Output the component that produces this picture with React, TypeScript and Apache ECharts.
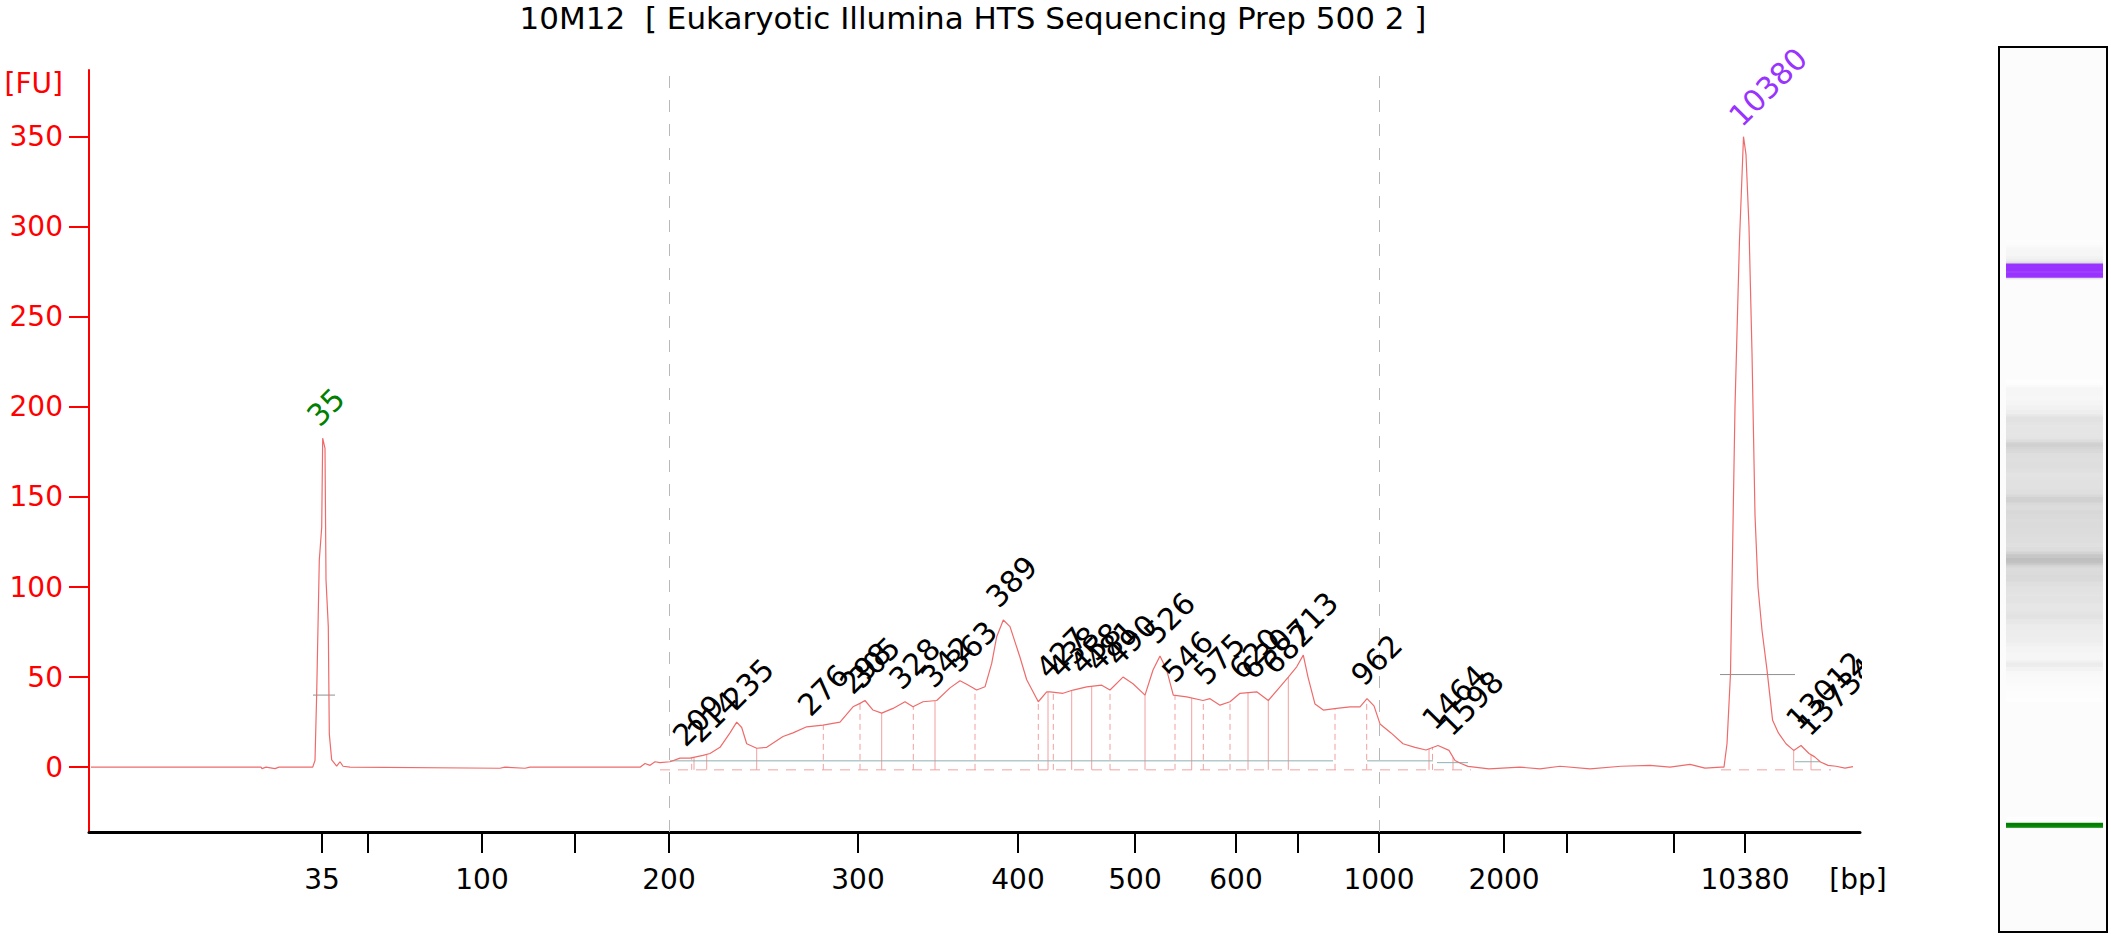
import React, { useEffect, useRef } from "react";
import * as echarts from "echarts";

const chartTitle = "10M12  [ Eukaryotic Illumina HTS Sequencing Prep 500 2 ]";
const yUnit = "[FU]";
const xUnit = "[bp]";

// Ladder: fragment sizes (bp) and their migration times (s)
const ladderBp = [35, 50, 100, 150, 200, 300, 400, 500, 600, 700, 1000, 2000, 3000, 7000, 10380];
const ladderTime = [43.1, 47.7, 59.1, 68.4, 77.8, 96.7, 112.7, 124.4, 134.5, 140.7, 148.8, 161.3, 167.6, 178.3, 185.4];
const ladderLabelled = [35, 100, 200, 300, 400, 500, 600, 1000, 2000, 10380];
const gridLineBp = [200, 1000];
const yTicks = [0, 50, 100, 150, 200, 250, 300, 350];

// Electropherogram trace: migration time (s) and fluorescence (FU)
const traceTime = [
  20.0, 30.0, 37.0, 37.1, 37.5, 38.4, 38.8, 42.17, 42.4, 42.57, 42.83, 43.07, 43.17, 43.4, 43.5, 43.73,
  43.83, 44.07, 44.57, 44.9, 45.2, 45.9, 60.9, 61.4, 63.4, 63.9, 74.9, 75.4, 75.9, 76.4, 76.9, 77.9,
  78.9, 79.9, 81.2, 81.9, 82.9, 83.9, 84.57, 85.07, 85.57, 86.57, 87.57, 89.2, 90.2, 91.57, 93.2, 94.9,
  96.2, 96.9, 97.4, 98.2, 99.07, 100.2, 101.4, 102.2, 103.2, 104.57, 105.9, 106.9, 107.57, 108.57, 109.4, 110.07,
  110.57, 111.23, 111.9, 112.9, 113.57, 114.73, 115.57, 115.9, 117.2, 118.2, 119.57, 121.07, 121.9, 123.2, 124.2, 125.4,
  126.2, 126.9, 127.57, 128.23, 129.57, 131.2, 131.9, 132.9, 133.9, 134.9, 136.57, 137.73, 138.9, 139.73, 140.57, 141.23,
  141.7, 142.4, 143.23, 144.57, 145.9, 146.9, 147.6, 148.3, 148.9, 150.0, 151.2, 152.4, 153.5, 154.7, 155.8, 156.4,
  157.0, 157.7, 159.8, 162.9, 164.9, 166.9, 169.9, 173.0, 175.9, 177.9, 179.9, 181.4, 183.0, 183.3, 183.6, 183.95,
  184.4, 184.84, 185.25, 185.5, 185.8, 186.1, 186.4, 186.7, 187.1, 187.6, 188.16, 188.74, 189.5, 190.27, 191.0, 191.8,
  192.37, 192.95, 193.7, 194.5, 195.4, 196.2,
];
const traceFU = [
  0, 0, 0, -0.8, 0, -0.8, 0, 0, 3.7, 41, 115, 133, 182.6, 177, 104, 78,
  18.5, 4, 0.6, 3, 0.5, 0, -0.6, 0, -0.6, 0, 0, 2, 1, 3, 2.5, 3,
  5, 5, 6.5, 7.6, 11, 19, 25, 22, 13, 10.5, 11, 17, 19, 22.4, 23.3, 25,
  33.5, 35.4, 37, 31.7, 30, 32.6, 36.3, 33.5, 36.3, 37, 44, 48, 46, 42.8, 44.6, 57.6,
  72.4, 81.7, 78, 61, 48.5, 36.3, 41.8, 41.8, 41, 42.8, 44.6, 45.5, 42.8, 50, 46.3, 40,
  53.9, 61.7, 53.9, 40, 39, 37, 38, 34.4, 36.3, 41, 41.8, 37, 44.6, 50, 55.7, 62.2,
  50, 35, 31.7, 32.6, 33.5, 33.5, 38, 34, 24, 19, 13, 11, 9.5, 12, 9.3, 3.7,
  2, 0.4, -1, 0, -1, 0.5, -1, 0.5, 1, 0, 1.5, -0.5, 0, 0, 13, 52,
  200, 291, 350, 340, 300, 230, 140, 100, 76, 54, 26, 19, 13, 9.3, 12, 7.6,
  5.7, 2.9, 1, 0.5, -0.5, 0.3,
];

// Called peaks
const peakLabel = ["35", "209", "214", "235", "276", "298", "305", "328", "342", "363", "389", "427", "438", "458", "481",
  "490", "526", "546", "575", "620", "630", "682", "713", "962", "1464", "1598", "10380", "13012", "13734"];
const peakTime = [43.2, 79.77, 81.27, 84.77, 92.27, 96.5, 97.4, 101.4, 104.6, 107.1, 111.1, 116.1, 117.3, 119.5, 121.1,
  123.1, 126.9, 128.7, 131.9, 135.4, 136.6, 138.7, 141.2, 147.6, 154.7, 156.4, 185.4, 191.1, 192.2];
const peakFU = [182.6, 5, 7, 25, 21.8, 34, 37, 36.5, 37.5, 46, 82, 42.5, 43, 45, 46.5,
  49.5, 61.7, 40.4, 39, 42, 42, 45, 62, 38.5, 14, 10.7, 349, 14, 10.7];

// Peak region borders (s)
const regionDashed = [80.07, 93.23, 96.9, 102.23, 108.4, 114.73, 116.23, 121.9, 128.4, 131.23, 133.9, 144.4, 147.57, 154.15];
const regionSolid = [80.3, 81.57, 86.57, 99.07, 104.4, 115.7, 118.07, 120.07, 125.4, 130.07, 135.7, 137.73, 139.73, 153.8, 156.2, 190.27, 192.0];
// Integration baselines [start s, end s, FU]
const baselineGrey = [[77.9, 144.2, 3.5], [147.6, 154.2, 3.5], [154.6, 157.7, 2.5], [190.4, 192.9, 3]];
const baselinePink = [[76.9, 158.0, -1.5], [183.0, 194.0, -1.5]];
// Marker peak width bars [start s, end s, FU]
const widthBars = [[42.2, 44.4, 40], [182.9, 190.4, 51.4]];
// Marker peaks: the lower and upper markers
const lowerMarkerBp = 35;
const upperMarkerBp = 10380;

const FONT = '"DejaVu Sans", Verdana, sans-serif';
const GREEN = "#008000";
const PURPLE = "#9933ff";

const timeOf = (bp: number) => ladderTime[ladderBp.indexOf(bp)];
const bpLabelOf = (v: number) => {
  let best = 0;
  for (let i = 1; i < ladderTime.length; i++) {
    if (Math.abs(ladderTime[i] - v) < Math.abs(ladderTime[best] - v)) best = i;
  }
  return String(ladderBp[best]);
};
const traceAt = (t: number) => {
  for (let i = 0; i < traceTime.length - 1; i++) {
    if (t >= traceTime[i] && t <= traceTime[i + 1]) {
      const f = (t - traceTime[i]) / (traceTime[i + 1] - traceTime[i]);
      return traceFU[i] + f * (traceFU[i + 1] - traceFU[i]);
    }
  }
  return 0;
};

const vLineSeries = (times: number[], dashed: boolean) => ({
  type: "custom",
  xAxisIndex: 0,
  yAxisIndex: 0,
  silent: true,
  z: 2,
  data: times.map((t) => [t, 0]),
  renderItem: (params: any, api: any) => {
    const t = times[params.dataIndex];
    const a = api.coord([t, -1.5]);
    const b = api.coord([t, traceAt(t)]);
    return {
      type: "line",
      shape: { x1: a[0], y1: a[1], x2: b[0], y2: b[1] },
      style: { stroke: "#f2a0a0", lineWidth: 1, lineDash: dashed ? [6, 4] : null },
    };
  },
});

const hSegSeries = (segs: number[][], color: string, dashed: boolean) => ({
  type: "custom",
  xAxisIndex: 0,
  yAxisIndex: 0,
  silent: true,
  z: 2,
  data: segs.map((s) => [s[0], s[2], s[1]]),
  renderItem: (params: any, api: any) => {
    const s = segs[params.dataIndex];
    const a = api.coord([s[0], s[2]]);
    const b = api.coord([s[1], s[2]]);
    return {
      type: "line",
      shape: { x1: a[0], y1: a[1], x2: b[0], y2: b[1] },
      style: { stroke: color, lineWidth: 1, lineDash: dashed ? [10, 8] : null },
    };
  },
});

const markerColorFor = (t: number) => {
  if (Math.abs(t - timeOf(lowerMarkerBp)) < 2) return GREEN;
  if (Math.abs(t - timeOf(upperMarkerBp)) < 2.5) return PURPLE;
  return null;
};

const option: any = {
  animation: false,
  backgroundColor: "#ffffff",
  textStyle: { fontFamily: FONT },
  grid: [
    { left: 89, right: 251, top: 70, bottom: 108, containLabel: false },
    {
      left: 1999, top: 47, width: 108, height: 885, show: true,
      borderColor: "#000000", borderWidth: 2, backgroundColor: "#fcfcfc",
    },
  ],
  xAxis: [
    {
      type: "value", gridIndex: 0, min: 19.8, max: 196.9,
      axisLine: { show: true, onZero: false, lineStyle: { color: "#000000", width: 3 } },
      axisTick: { show: true, customValues: ladderTime, length: 21, lineStyle: { color: "#000000", width: 2 } },
      axisLabel: {
        show: true, customValues: ladderLabelled.map(timeOf), formatter: (v: number) => bpLabelOf(v),
        color: "#000000", fontSize: 28, fontFamily: FONT, margin: 33,
      },
      splitLine: { show: false },
    },
    { type: "value", gridIndex: 1, min: 0, max: 1, show: false },
  ],
  yAxis: [
    {
      type: "value", gridIndex: 0, min: -36, max: 387,
      axisLine: { show: true, lineStyle: { color: "#ff0000", width: 2 } },
      axisTick: { show: true, customValues: yTicks, length: 20, lineStyle: { color: "#ff0000", width: 2 } },
      axisLabel: { show: true, customValues: yTicks, color: "#ff0000", fontSize: 28, fontFamily: FONT, margin: 26 },
      splitLine: { show: false },
    },
    { type: "value", gridIndex: 1, min: 15.7, max: 243.2, show: false },
  ],
  graphic: [
    {
      type: "text", x: 973, y: 18, z: 100,
      style: { text: chartTitle, fill: "#000000", font: `31px ${FONT}`, textAlign: "center", textVerticalAlign: "middle", align: "center", verticalAlign: "middle" },
    },
    {
      type: "text", x: 63, y: 83, z: 100,
      style: { text: yUnit, fill: "#ff0000", font: `28px ${FONT}`, textAlign: "right", textVerticalAlign: "middle", align: "right", verticalAlign: "middle" },
    },
    {
      type: "text", x: 1858, y: 879, z: 100,
      style: { text: xUnit, fill: "#000000", font: `28px ${FONT}`, textAlign: "center", textVerticalAlign: "middle", align: "center", verticalAlign: "middle" },
    },
    {
      type: "rect", x: 1862, y: 540, z: 90,
      shape: { width: 130, height: 230 },
      style: { fill: "#ffffff" },
    },
  ],
  series: [
    {
      type: "line",
      xAxisIndex: 0,
      yAxisIndex: 0,
      data: traceTime.map((t, i) => [t, traceFU[i]]),
      showSymbol: false,
      symbol: "none",
      lineStyle: { color: "#ef6b6b", width: 1.2 },
      z: 3,
      silent: true,
      markLine: {
        silent: true,
        symbol: ["none", "none"],
        label: { show: false },
        lineStyle: { color: "#b8b8b8", type: [12, 12], width: 1 },
        data: gridLineBp.map((bp) => ({ xAxis: timeOf(bp) })),
      },
    },
    vLineSeries(regionDashed, true),
    vLineSeries(regionSolid, false),
    hSegSeries(baselineGrey, "#8fb0b0", false),
    hSegSeries(baselinePink, "#f2a0a0", true),
    hSegSeries(widthBars, "#909090", false),
    {
      type: "custom",
      xAxisIndex: 0,
      yAxisIndex: 0,
      silent: true,
      z: 5,
      data: peakTime.map((t, i) => [t, peakFU[i]]),
      renderItem: (params: any, api: any) => {
        const i = params.dataIndex;
        const p = api.coord([peakTime[i], peakFU[i]]);
        const lbl = peakLabel[i];
        const fill = lbl === String(lowerMarkerBp) ? GREEN : lbl === String(upperMarkerBp) ? PURPLE : "#000000";
        return {
          type: "text",
          x: p[0],
          y: p[1] - 7,
          rotation: Math.PI / 4,
          style: {
            text: lbl, fill, font: `30px ${FONT}`,
            textAlign: "left", textVerticalAlign: "bottom", align: "left", verticalAlign: "bottom",
          },
        };
      },
    },
    {
      type: "custom",
      xAxisIndex: 1,
      yAxisIndex: 1,
      silent: true,
      data: traceTime.map((t, i) => [0.5, t, i]),
      renderItem: (params: any, api: any) => {
        const i = params.dataIndex;
        if (i >= traceTime.length - 1) return null;
        const fu = (traceFU[i] + traceFU[i + 1]) / 2;
        if (fu < 1) return null;
        const tMid = (traceTime[i] + traceTime[i + 1]) / 2;
        const a = api.coord([0.065, traceTime[i]]);
        const b = api.coord([0.963, traceTime[i + 1]]);
        const mk = markerColorFor(tMid);
        let fill: string;
        if (mk && fu > 45) fill = mk;
        else {
          const g = Math.round(255 - Math.min(fu, 90) * 0.8);
          fill = `rgb(${g},${g},${g})`;
        }
        return {
          type: "rect",
          shape: { x: a[0], y: b[1] - 0.3, width: b[0] - a[0], height: Math.max(a[1] - b[1] + 0.6, 0.8) },
          style: { fill },
        };
      },
    },
  ],
};

export default function App() {
  const ref = useRef<HTMLDivElement>(null);
  useEffect(() => {
    document.body.style.margin = "0";
    const chart = echarts.init(ref.current as HTMLDivElement, null, { renderer: "svg" });
    chart.setOption(option);
    return () => chart.dispose();
  }, []);
  return <div ref={ref} style={{ position: "absolute", left: 0, top: 0, width: 2111, height: 940 }} />;
}
